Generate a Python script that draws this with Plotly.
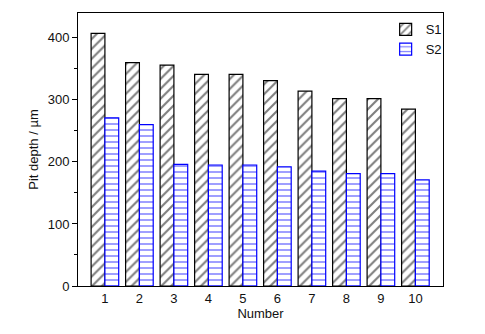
import plotly.graph_objects as go

numbers = [1, 2, 3, 4, 5, 6, 7, 8, 9, 10]
s1_depth = [407, 360, 356, 341, 341, 331, 314, 302, 302, 285]
s2_depth = [271, 260, 196, 195, 195, 192, 185, 181, 181, 171]

fig = go.Figure()
fig.add_trace(go.Bar(
    x=numbers, y=s1_depth, name="S1",
    marker=dict(color="white", line=dict(color="black", width=1.2),
                pattern=dict(shape="/", fgcolor="black", bgcolor="white", size=7, solidity=0.3)),
))
fig.add_trace(go.Bar(
    x=numbers, y=s2_depth, name="S2",
    marker=dict(color="white", line=dict(color="blue", width=1.2),
                pattern=dict(shape="-", fgcolor="blue", bgcolor="white", size=6, solidity=0.25)),
))

fig.update_layout(
    width=485, height=334,
    margin=dict(l=78, r=42, t=13, b=48),
    barmode="group", bargap=0.2, bargroupgap=0,
    plot_bgcolor="white", paper_bgcolor="white",
    font=dict(family="Arial, Liberation Sans, sans-serif", size=13, color="#111"),
    legend=dict(x=1.01, y=0.995, xanchor="right", yanchor="top",
                bgcolor="rgba(0,0,0,0)", font=dict(size=13), tracegroupgap=0),
    xaxis=dict(range=[0.22, 10.8], tickmode="array", tickvals=numbers,
               ticks="", showline=True, linecolor="black", linewidth=1, mirror=True,
               showgrid=False, zeroline=False, tickfont=dict(size=13),
               title=dict(text="Number", standoff=2, font=dict(size=13))),
    yaxis=dict(range=[0, 440], tickvals=[0, 100, 200, 300, 400],
               ticks="outside", ticklen=5, tickcolor="black", tickfont=dict(size=13),
               minor=dict(tickvals=[50, 150, 250, 350], ticks="outside", ticklen=3, tickcolor="black"),
               showline=True, linecolor="black", linewidth=1, mirror=True,
               showgrid=False, zeroline=False,
               title=dict(text="Pit depth / µm", standoff=6, font=dict(size=13))),
)

fig.write_html("out.html")
